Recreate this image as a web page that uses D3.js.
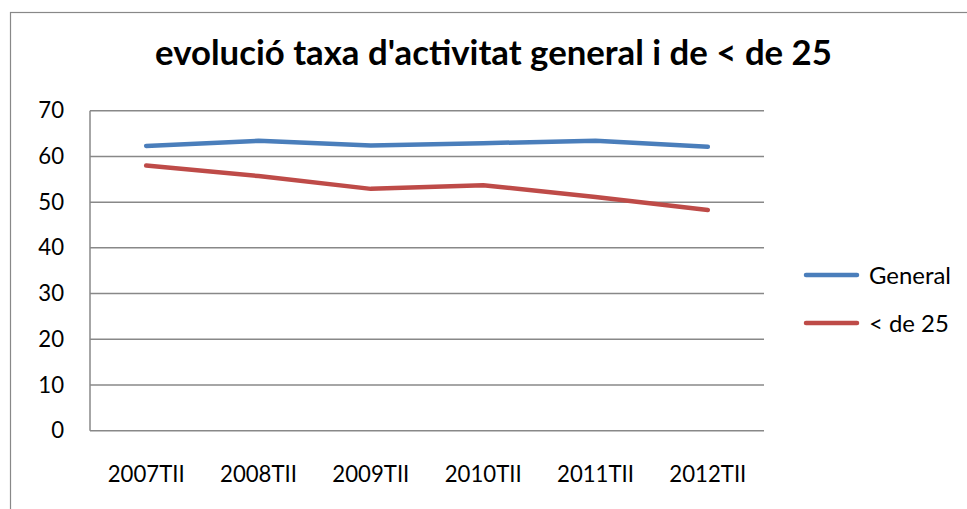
<!DOCTYPE html>
<html>
<head>
<meta charset="utf-8">
<script src="https://cdn.jsdelivr.net/npm/d3@7"></script>
<style>
  body { margin: 0; background: #fff; }
  text { font-family: Lato, "Noto Sans", sans-serif; fill: #000; }
</style>
</head>
<body>
<div id="chart"></div>
<script>
const width = 967, height = 509;

// data
const categories = ["2007TII", "2008TII", "2009TII", "2010TII", "2011TII", "2012TII"];
const seriesNames = ["General", "< de 25"];
const generalValues = [62.3, 63.4, 62.4, 62.9, 63.4, 62.1];
const under25Values = [58.0, 55.7, 52.9, 53.7, 51.1, 48.3];
const yTicks = [0, 10, 20, 30, 40, 50, 60, 70];
const title = "evolució taxa d'activitat general i de < de 25";

const colors = ["#4a7ebb", "#be4b48"];
const series = [generalValues, under25Values].map((vals, i) => ({
    name: seriesNames[i],
    values: vals.map((v, j) => ({ cat: categories[j], value: v }))
}));

const plot = { left: 90, right: 764, top: 110.7, bottom: 430.7 };

const svg = d3.select("#chart").append("svg")
    .attr("width", width)
    .attr("height", height);

// outer chart frame (runs off the right/bottom edge)
svg.append("rect")
    .attr("x", 10.5).attr("y", 12.5)
    .attr("width", width + 20).attr("height", height + 20)
    .attr("fill", "#fff")
    .attr("stroke", "#888")
    .attr("stroke-width", 1.2);

const x = d3.scaleBand().domain(categories).range([plot.left, plot.right]);
const y = d3.scaleLinear().domain([0, 70]).range([plot.bottom, plot.top]);
const cx = d => x(d) + x.bandwidth() / 2;

// helper: font size that makes a sample text a given width
function fitFont(sample, target, base, weight) {
    const t = svg.append("text")
        .style("font-size", base + "px")
        .style("font-weight", weight || "normal")
        .text(sample);
    const w = t.node().getComputedTextLength();
    t.remove();
    return base * target / w;
}
const labelSize = fitFont("2007TII", 77, 20);
const legendSize = fitFont("General", 82, 20);

// gridlines
svg.append("g")
    .selectAll("line")
    .data(yTicks)
    .enter()
    .append("line")
    .attr("x1", plot.left).attr("x2", plot.right)
    .attr("y1", d => y(d)).attr("y2", d => y(d))
    .attr("stroke", "#888")
    .attr("stroke-width", 1.5);

// left axis line
svg.append("line")
    .attr("x1", plot.left).attr("x2", plot.left)
    .attr("y1", plot.top).attr("y2", plot.bottom)
    .attr("stroke", "#888")
    .attr("stroke-width", 1.5);

// y axis labels
const yAxis = d3.axisLeft(y).tickValues(yTicks).tickSize(0).tickPadding(26);
svg.append("g")
    .attr("transform", "translate(" + plot.left + ",0)")
    .call(yAxis)
    .call(g => g.select(".domain").remove())
    .selectAll("text")
    .style("font-family", "Lato, 'Noto Sans', sans-serif")
    .style("font-size", labelSize + "px")
    .attr("fill", "#000");

// x axis labels
const xAxis = d3.axisBottom(x).tickSize(0).tickPadding(36);
svg.append("g")
    .attr("transform", "translate(0," + plot.bottom + ")")
    .call(xAxis)
    .call(g => g.select(".domain").remove())
    .selectAll("text")
    .style("font-family", "Lato, 'Noto Sans', sans-serif")
    .style("font-size", labelSize + "px")
    .attr("fill", "#000");

// lines
const line = d3.line()
    .x(d => cx(d.cat))
    .y(d => y(d.value));

svg.append("g")
    .selectAll("path")
    .data(series)
    .enter()
    .append("path")
    .attr("d", d => line(d.values))
    .attr("fill", "none")
    .attr("stroke", (d, i) => colors[i])
    .attr("stroke-width", 4.5)
    .attr("stroke-linecap", "round")
    .attr("stroke-linejoin", "round");

// legend
const legendY = [275, 323];
const legend = svg.append("g")
    .selectAll("g")
    .data(series)
    .enter()
    .append("g")
    .attr("transform", (d, i) => "translate(0," + legendY[i] + ")");

legend.append("line")
    .attr("x1", 806).attr("x2", 857)
    .attr("y1", 0).attr("y2", 0)
    .attr("stroke", (d, i) => colors[i])
    .attr("stroke-width", 4.5)
    .attr("stroke-linecap", "round");

legend.append("text")
    .attr("x", 869)
    .attr("y", 0)
    .attr("dy", "0.36em")
    .style("font-size", legendSize + "px")
    .text(d => d.name);

// title
const titleSize = fitFont(title, 677, 28, "bold");
svg.append("text")
    .attr("x", 493.5)
    .attr("y", 65)
    .attr("text-anchor", "middle")
    .style("font-size", titleSize + "px")
    .style("font-weight", "bold")
    .text(title);
</script>
</body>
</html>
